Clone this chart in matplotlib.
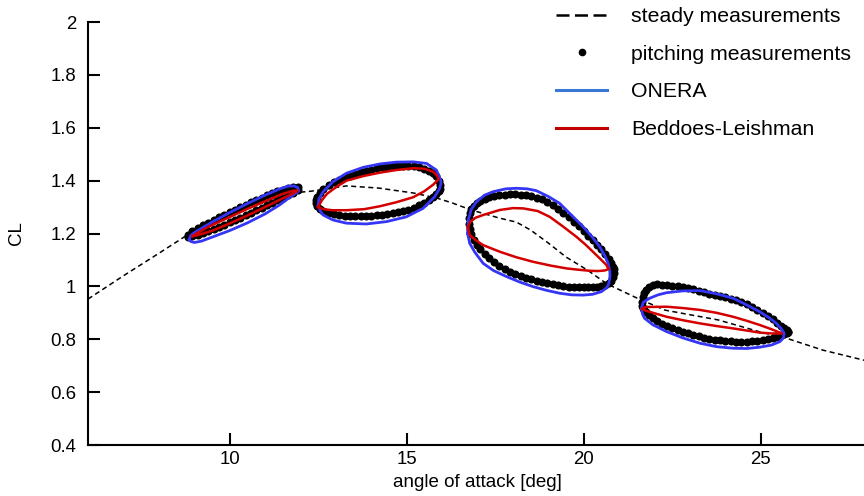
import matplotlib
matplotlib.use('Agg')
import matplotlib.pyplot as plt
from matplotlib.lines import Line2D

plt.rcParams['font.family'] = ['Liberation Sans', 'DejaVu Sans']

# steady measurements
steady_aoa = [6, 7, 8, 8.8, 9.5, 10.5, 11.3, 11.9, 12.3, 13.3, 14.2, 15.2, 15.85, 16.3,
              16.8, 17.6, 18.1, 18.5, 19.0, 19.5, 20.1, 20.65, 21.5, 22.3, 23.8, 25.0,
              25.7, 26.75, 28]
steady_cl = [0.952, 1.04, 1.125, 1.194, 1.245, 1.295, 1.335, 1.355, 1.36, 1.38, 1.372,
             1.353, 1.334, 1.315, 1.29, 1.259, 1.243, 1.213, 1.164, 1.111, 1.062, 1.01,
             0.956, 0.91, 0.873, 0.827, 0.805, 0.759, 0.718]

# pitching measurements (dots), one alpha grid per loop, upper and lower branch
dots1_aoa = [8.82, 8.95, 9.1, 9.25, 9.4, 9.55, 9.7, 9.85, 10.0, 10.15, 10.3, 10.45, 10.6,
             10.75, 10.9, 11.05, 11.2, 11.35, 11.5, 11.65, 11.8, 11.92]
dots1_up = [1.196, 1.21, 1.221, 1.231, 1.241, 1.251, 1.261, 1.271, 1.281, 1.29, 1.3, 1.309,
            1.318, 1.327, 1.336, 1.344, 1.352, 1.36, 1.366, 1.372, 1.377, 1.376]
dots1_dn = [1.188, 1.19, 1.196, 1.202, 1.21, 1.218, 1.226, 1.234, 1.243, 1.251, 1.26, 1.269,
            1.278, 1.287, 1.297, 1.306, 1.316, 1.326, 1.336, 1.345, 1.355, 1.366]

dots2_aoa = [12.45, 12.48, 12.55, 12.65, 12.8, 12.95, 13.1, 13.25, 13.4, 13.55, 13.7, 13.85,
             14.0, 14.15, 14.3, 14.45, 14.6, 14.75, 14.9, 15.05, 15.2, 15.35, 15.5, 15.62,
             15.74, 15.84, 15.91, 15.95]
dots2_up = [1.325, 1.338, 1.354, 1.367, 1.384, 1.395, 1.404, 1.412, 1.419, 1.426, 1.432,
            1.437, 1.442, 1.446, 1.45, 1.452, 1.454, 1.456, 1.456, 1.456, 1.454, 1.451,
            1.445, 1.438, 1.428, 1.416, 1.4, 1.383]
dots2_dn = [1.315, 1.305, 1.294, 1.284, 1.276, 1.272, 1.27, 1.268, 1.267, 1.266, 1.266,
            1.266, 1.267, 1.269, 1.271, 1.273, 1.277, 1.28, 1.285, 1.29, 1.298, 1.306,
            1.316, 1.325, 1.337, 1.349, 1.36, 1.37]

dots3_aoa = [16.75, 16.78, 16.83, 16.9, 16.98, 17.08, 17.2, 17.33, 17.47, 17.62, 17.77,
             17.92, 18.07, 18.22, 18.37, 18.52, 18.67, 18.82, 18.97, 19.12, 19.27, 19.42,
             19.57, 19.72, 19.87, 20.0, 20.13, 20.26, 20.38, 20.5, 20.61, 20.7, 20.77,
             20.82, 20.85]
dots3_up = [1.26, 1.276, 1.291, 1.305, 1.315, 1.324, 1.332, 1.338, 1.342, 1.345, 1.347,
            1.348, 1.348, 1.347, 1.345, 1.341, 1.336, 1.329, 1.319, 1.307, 1.294, 1.279,
            1.263, 1.245, 1.227, 1.209, 1.191, 1.174, 1.158, 1.141, 1.123, 1.104, 1.088,
            1.075, 1.065]
dots3_dn = [1.235, 1.216, 1.197, 1.175, 1.158, 1.141, 1.122, 1.106, 1.091, 1.078, 1.066,
            1.056, 1.047, 1.04, 1.033, 1.027, 1.022, 1.017, 1.013, 1.009, 1.005, 1.002,
            0.999, 0.998, 0.997, 0.997, 0.997, 0.998, 0.999, 1.002, 1.006, 1.013, 1.022,
            1.035, 1.05]

dots4_aoa = [21.65, 21.67, 21.71, 21.77, 21.85, 21.95, 22.07, 22.2, 22.35, 22.5, 22.65,
             22.8, 22.95, 23.1, 23.25, 23.4, 23.55, 23.7, 23.85, 24.0, 24.15, 24.3, 24.45,
             24.6, 24.75, 24.9, 25.05, 25.2, 25.34, 25.47, 25.58, 25.67, 25.73, 25.76]
dots4_up = [0.94, 0.958, 0.975, 0.987, 0.997, 1.004, 1.008, 1.007, 1.005, 1.002, 1.0,
            0.998, 0.994, 0.99, 0.984, 0.978, 0.973, 0.968, 0.964, 0.96, 0.954, 0.948,
            0.94, 0.932, 0.922, 0.911, 0.899, 0.887, 0.875, 0.863, 0.852, 0.842, 0.834,
            0.829]
dots4_dn = [0.925, 0.918, 0.91, 0.903, 0.893, 0.881, 0.869, 0.859, 0.85, 0.841, 0.834,
            0.828, 0.822, 0.817, 0.811, 0.806, 0.802, 0.798, 0.796, 0.794, 0.792, 0.79,
            0.79, 0.79, 0.792, 0.794, 0.797, 0.801, 0.806, 0.81, 0.815, 0.82, 0.824, 0.829]

# ONERA model loops
onera1_up_aoa = [8.86, 8.9, 9.0, 9.15, 9.5, 10.0, 10.5, 11.0, 11.4, 11.65, 11.82, 11.92, 11.95]
onera1_up_cl = [1.178, 1.192, 1.203, 1.215, 1.243, 1.279, 1.313, 1.345, 1.368, 1.379, 1.38, 1.374, 1.362]
onera1_dn_aoa = [8.86, 8.9, 9.0, 9.2, 9.5, 10.0, 10.5, 11.0, 11.4, 11.65, 11.82, 11.92, 11.95]
onera1_dn_cl = [1.178, 1.17, 1.166, 1.171, 1.186, 1.211, 1.24, 1.274, 1.307, 1.332, 1.348, 1.357, 1.362]

onera2_up_aoa = [12.5, 12.52, 12.64, 12.92, 13.3, 13.77, 14.24, 14.71, 15.18, 15.56, 15.84, 15.96, 15.97]
onera2_up_cl = [1.305, 1.33, 1.358, 1.396, 1.428, 1.45, 1.463, 1.47, 1.471, 1.465, 1.44, 1.402, 1.39]
onera2_dn_aoa = [12.5, 12.56, 12.64, 12.92, 13.3, 13.86, 14.43, 14.99, 15.46, 15.79, 15.93, 15.97]
onera2_dn_cl = [1.305, 1.285, 1.27, 1.251, 1.239, 1.236, 1.245, 1.263, 1.295, 1.339, 1.37, 1.39]

onera3_up_aoa = [16.72, 16.74, 16.82, 16.97, 17.2, 17.44, 17.8, 18.1, 18.4, 18.66, 19.0, 19.32,
                 19.65, 19.98, 20.25, 20.45, 20.6, 20.69, 20.74, 20.74]
onera3_up_cl = [1.2, 1.25, 1.29, 1.32, 1.345, 1.358, 1.369, 1.371, 1.369, 1.362, 1.34, 1.314,
                1.27, 1.226, 1.185, 1.15, 1.115, 1.087, 1.055, 1.037]
onera3_dn_aoa = [16.72, 16.78, 16.92, 17.16, 17.45, 17.82, 18.2, 18.57, 18.95, 19.32, 19.65,
                 19.98, 20.25, 20.5, 20.65, 20.71, 20.74]
onera3_dn_cl = [1.2, 1.163, 1.13, 1.087, 1.06, 1.037, 1.016, 0.999, 0.985, 0.974, 0.968,
                0.967, 0.97, 0.98, 0.995, 1.011, 1.037]

onera4_up_aoa = [21.63, 21.68, 21.86, 22.1, 22.34, 22.8, 23.28, 23.75, 24.22, 24.6, 24.97,
                 25.25, 25.44, 25.58, 25.66]
onera4_up_cl = [0.917, 0.94, 0.955, 0.968, 0.976, 0.983, 0.984, 0.972, 0.955, 0.93, 0.904,
                0.88, 0.86, 0.84, 0.822]
onera4_dn_aoa = [21.63, 21.66, 21.72, 21.95, 22.34, 22.8, 23.28, 23.75, 24.22, 24.6, 24.97,
                 25.3, 25.54, 25.64, 25.66]
onera4_dn_cl = [0.917, 0.895, 0.879, 0.855, 0.829, 0.805, 0.785, 0.772, 0.766, 0.765, 0.77,
                0.778, 0.791, 0.805, 0.822]

# Beddoes-Leishman model loops
bl1_up_aoa = [8.95, 9.1, 9.5, 10.0, 10.5, 11.0, 11.5, 11.8, 11.92]
bl1_up_cl = [1.19, 1.203, 1.232, 1.262, 1.293, 1.322, 1.35, 1.362, 1.362]
bl1_dn_aoa = [8.95, 9.1, 9.5, 10.0, 10.5, 11.0, 11.5, 11.8, 11.92]
bl1_dn_cl = [1.19, 1.194, 1.21, 1.238, 1.268, 1.3, 1.333, 1.352, 1.362]

bl2_up_aoa = [12.5, 12.6, 12.75, 13.0, 13.3, 13.8, 14.24, 14.7, 15.18, 15.5, 15.74, 15.85, 15.9]
bl2_up_cl = [1.30, 1.325, 1.35, 1.375, 1.4, 1.418, 1.43, 1.44, 1.447, 1.445, 1.434, 1.42, 1.405]
bl2_dn_aoa = [12.5, 12.65, 12.9, 13.3, 13.8, 14.24, 14.7, 15.18, 15.5, 15.75, 15.9]
bl2_dn_cl = [1.30, 1.292, 1.288, 1.288, 1.292, 1.303, 1.318, 1.337, 1.36, 1.385, 1.405]

bl3_up_aoa = [16.73, 16.8, 16.95, 17.16, 17.63, 18.0, 18.29, 18.7, 19.04, 19.4, 19.79, 20.05,
              20.26, 20.46, 20.64, 20.7]
bl3_up_cl = [1.225, 1.245, 1.26, 1.27, 1.289, 1.296, 1.295, 1.285, 1.263, 1.228, 1.188, 1.158,
             1.131, 1.105, 1.081, 1.065]
bl3_dn_aoa = [16.73, 16.78, 16.95, 17.16, 17.63, 18.1, 18.57, 19.05, 19.51, 19.85, 20.17, 20.4,
              20.59, 20.7]
bl3_dn_cl = [1.225, 1.194, 1.175, 1.156, 1.131, 1.11, 1.093, 1.079, 1.068, 1.063, 1.059, 1.058,
             1.06, 1.065]

bl4_up_aoa = [21.65, 21.75, 22.34, 22.8, 23.28, 23.75, 24.22, 24.6, 24.97, 25.3, 25.6]
bl4_up_cl = [0.915, 0.922, 0.923, 0.918, 0.911, 0.9, 0.885, 0.87, 0.854, 0.838, 0.822]
bl4_dn_aoa = [21.65, 21.75, 22.34, 22.8, 23.28, 23.75, 24.22, 24.6, 24.97, 25.3, 25.6]
bl4_dn_cl = [0.915, 0.908, 0.885, 0.872, 0.86, 0.85, 0.841, 0.833, 0.825, 0.822, 0.822]

x_ticks = [10, 15, 20, 25]
y_ticks = [0.4, 0.6, 0.8, 1, 1.2, 1.4, 1.6, 1.8, 2]
y_ticklabels = ['0.4', '0.6', '0.8', '1', '1.2', '1.4', '1.6', '1.8', '2']

dots = [(dots1_aoa, dots1_up, dots1_dn), (dots2_aoa, dots2_up, dots2_dn),
        (dots3_aoa, dots3_up, dots3_dn), (dots4_aoa, dots4_up, dots4_dn)]
onera = [(onera1_up_aoa, onera1_up_cl, onera1_dn_aoa, onera1_dn_cl),
         (onera2_up_aoa, onera2_up_cl, onera2_dn_aoa, onera2_dn_cl),
         (onera3_up_aoa, onera3_up_cl, onera3_dn_aoa, onera3_dn_cl),
         (onera4_up_aoa, onera4_up_cl, onera4_dn_aoa, onera4_dn_cl)]
bl = [(bl1_up_aoa, bl1_up_cl, bl1_dn_aoa, bl1_dn_cl),
      (bl2_up_aoa, bl2_up_cl, bl2_dn_aoa, bl2_dn_cl),
      (bl3_up_aoa, bl3_up_cl, bl3_dn_aoa, bl3_dn_cl),
      (bl4_up_aoa, bl4_up_cl, bl4_dn_aoa, bl4_dn_cl)]

blue = '#3535f5'
red = '#d40000'

fig = plt.figure(figsize=(8.64, 4.96), dpi=100)
ax = fig.add_axes([88/864, 51/496, 779/864, 423/496])

ax.plot(steady_aoa, steady_cl, color='black', lw=1.1, dashes=(3.3, 2.3), zorder=2)

for a, up, dn in dots:
    ax.plot(a + a[::-1], up + dn[::-1], 'o', color='black', ms=5.8, mew=0, zorder=3)

for ua, uc, da, dc in onera:
    ax.plot(ua + da[::-1], uc + dc[::-1], color=blue, lw=2.0, zorder=4,
            solid_joinstyle='round')

for ua, uc, da, dc in bl:
    ax.plot(ua + da[::-1], uc + dc[::-1], color=red, lw=1.8, zorder=5,
            solid_joinstyle='round')

ax.set_xlim(6, 28)
ax.set_ylim(0.4, 2)
ax.set_xticks(x_ticks)
ax.set_yticks(y_ticks)
ax.set_yticklabels(y_ticklabels)
ax.spines['top'].set_visible(False)
ax.spines['right'].set_visible(False)
for s in ['left', 'bottom']:
    ax.spines[s].set_linewidth(1.5)
ax.tick_params(direction='in', length=8.6, width=1.5, labelsize=13.4)
ax.tick_params(axis='x', pad=4.5)
ax.tick_params(axis='y', pad=8.5)
ax.set_xlabel('angle of attack [deg]', fontsize=13.5, labelpad=4)
ax.set_ylabel('CL', fontsize=13.5)
ax.yaxis.set_label_coords(-0.081, 0.5)

handles = [Line2D([], [], color='black', lw=1.8, dashes=(5.2, 2.2)),
           Line2D([], [], marker='o', ls='none', color='black', ms=4.5),
           Line2D([], [], color='#3b78d6', lw=2.2),
           Line2D([], [], color='#c00000', lw=2.2)]
labels = ['steady measurements', 'pitching measurements', 'ONERA', 'Beddoes-Leishman']
fig.legend(handles, labels, loc='upper left', bbox_to_anchor=(556/864, 1 - 7/496),
           frameon=False, fontsize=15.3, handlelength=2.4, handletextpad=1.15,
           labelspacing=0.88, borderpad=0, borderaxespad=0)

fig.savefig('out.png', dpi=100)
